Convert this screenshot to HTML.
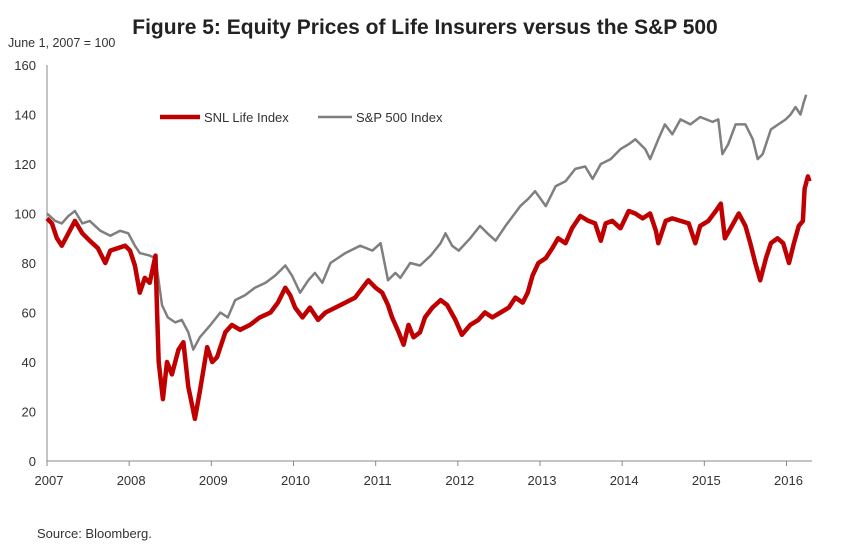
<!DOCTYPE html>
<html><head><meta charset="utf-8"><style>
body{margin:0;background:#fff;}
svg{display:block;font-family:"Liberation Sans",sans-serif;}
</style></head><body>
<svg id="chart" width="850" height="550">
<text x="425" y="34" text-anchor="middle" font-size="21" font-weight="bold" fill="#222">Figure 5:  Equity Prices of Life Insurers versus the S&amp;P 500</text>
<text x="8" y="47" font-size="12.5" fill="#333">June 1, 2007 = 100</text>
<g id="yaxis"></g>
<g id="xaxis"></g>
<g id="series"></g>
<g>
<line x1="160" y1="117" x2="200" y2="117" stroke="#c00000" stroke-width="4.5"/>
<text x="204" y="122" font-size="13" fill="#333">SNL Life Index</text>
<line x1="318" y1="117" x2="352" y2="117" stroke="#7f7f7f" stroke-width="2.5"/>
<text x="356" y="122" font-size="13" fill="#333">S&amp;P 500 Index</text>
</g>
<text x="37" y="538" font-size="13" fill="#333">Source: Bloomberg.</text>
</svg>
<script>
const yTicks=[0,20,40,60,80,100,120,140,160];
const xTickLabels=["2007","2008","2009","2010","2011","2012","2013","2014","2015","2016"];
const spDates=[0,.10,.18,.26,.34,.43,.52,.65,.77,.89,.99,1.07,1.13,1.25,1.32,1.35,1.40,1.47,1.56,1.64,1.72,1.78,1.86,1.99,2.11,2.20,2.29,2.41,2.53,2.66,2.78,2.90,2.98,3.08,3.18,3.26,3.35,3.45,3.63,3.81,3.96,4.06,4.12,4.15,4.24,4.30,4.42,4.54,4.67,4.79,4.85,4.93,5.01,5.15,5.27,5.36,5.46,5.58,5.76,5.86,5.94,6.07,6.19,6.31,6.43,6.55,6.64,6.74,6.86,6.98,7.08,7.16,7.28,7.34,7.44,7.52,7.61,7.71,7.83,7.95,8.10,8.17,8.22,8.29,8.38,8.50,8.59,8.65,8.71,8.81,8.90,8.99,9.05,9.11,9.17,9.21,9.24];
const spValues=[100,97,96,99,101,96,97,93,91,93,92,87,84,83,82,75,63,58,56,57,52,45,50,55,60,58,65,67,70,72,75,79,75,68,73,76,72,80,84,87,85,88,78,73,76,74,80,79,83,88,92,87,85,90,95,92,89,95,103,106,109,103,111,113,118,119,114,120,122,126,128,130,126,122,130,136,132,138,136,139,137,138,124,128,136,136,130,122,124,134,136,138,140,143,140,145,148];
const snlDates=[0,.06,.12,.18,.26,.34,.43,.52,.62,.71,.77,.86,.95,1.01,1.07,1.13,1.19,1.25,1.32,1.34,1.36,1.41,1.46,1.52,1.60,1.66,1.72,1.77,1.80,1.86,1.95,2.01,2.07,2.17,2.25,2.35,2.47,2.59,2.72,2.81,2.90,2.96,3.02,3.11,3.20,3.30,3.39,3.51,3.63,3.75,3.84,3.91,4.00,4.08,4.15,4.20,4.28,4.34,4.40,4.46,4.54,4.60,4.69,4.79,4.87,4.97,5.05,5.15,5.25,5.33,5.42,5.52,5.62,5.70,5.79,5.85,5.91,5.98,6.07,6.15,6.22,6.31,6.39,6.49,6.59,6.67,6.74,6.80,6.88,6.98,7.08,7.16,7.25,7.34,7.41,7.44,7.53,7.61,7.71,7.81,7.89,7.95,8.05,8.14,8.20,8.25,8.32,8.42,8.50,8.56,8.62,8.68,8.75,8.81,8.89,8.96,9.03,9.09,9.15,9.20,9.22,9.26,9.28];
const snlValues=[98,96,90,87,92,97,92,89,86,80,85,86,87,85,79,68,74,72,83,60,40,25,40,35,45,48,30,22,17,28,46,40,42,52,55,53,55,58,60,64,70,67,62,58,62,57,60,62,64,66,70,73,70,68,63,58,52,47,55,50,52,58,62,65,63,57,51,55,57,60,58,60,62,66,64,68,75,80,82,86,90,88,94,99,97,96,89,96,97,94,101,100,98,100,93,88,97,98,97,96,88,95,97,101,104,90,94,100,95,88,80,73,82,88,90,88,80,88,95,97,110,115,113];

const NS="http://www.w3.org/2000/svg";
const x0=47,x1=786.5,y0=461,y1=65;
function xs(t){return x0+t*(x1-x0)/9;}
function ys(v){return y0-v*(y0-y1)/160;}
const yg=document.getElementById('yaxis'),xg=document.getElementById('xaxis'),sg=document.getElementById('series');
function mk(tag,attrs,parent){const e=document.createElementNS(NS,tag);for(const k in attrs)e.setAttribute(k,attrs[k]);parent.appendChild(e);return e;}
const ya=mk('line',{x1:x0,y1:y1,x2:x0,y2:y0,stroke:'#888','stroke-width':1},yg);


yTicks.forEach(v=>{
  const t=mk('text',{x:36,y:ys(v)+5,'text-anchor':'end','font-size':13,fill:'#333'},yg);
  t.textContent=v;
  
  
});
const xa=mk('line',{x1:x0,y1:y0,x2:812,y2:y0,stroke:'#888','stroke-width':1},xg);


xTickLabels.forEach((l,i)=>{
  const tk=mk('line',{x1:xs(i),y1:y0,x2:xs(i),y2:y0+5,stroke:'#888'},xg);
  
  
  const t=mk('text',{x:xs(i)+2,y:485,'text-anchor':'middle','font-size':13,fill:'#333'},xg);
  t.textContent=l;
  
  
});
function path(d,v){return d.map((t,i)=>(i?'L':'M')+xs(t).toFixed(1)+','+ys(v[i]).toFixed(1)).join('');}
const sp=mk('path',{d:path(spDates,spValues),fill:'none',stroke:'#7f7f7f','stroke-width':2.5,'stroke-linejoin':'round'},sg);


const sn=mk('path',{d:path(snlDates,snlValues),fill:'none',stroke:'#c00000','stroke-width':4.5,'stroke-linejoin':'round'},sg);


</script>
</body></html>
